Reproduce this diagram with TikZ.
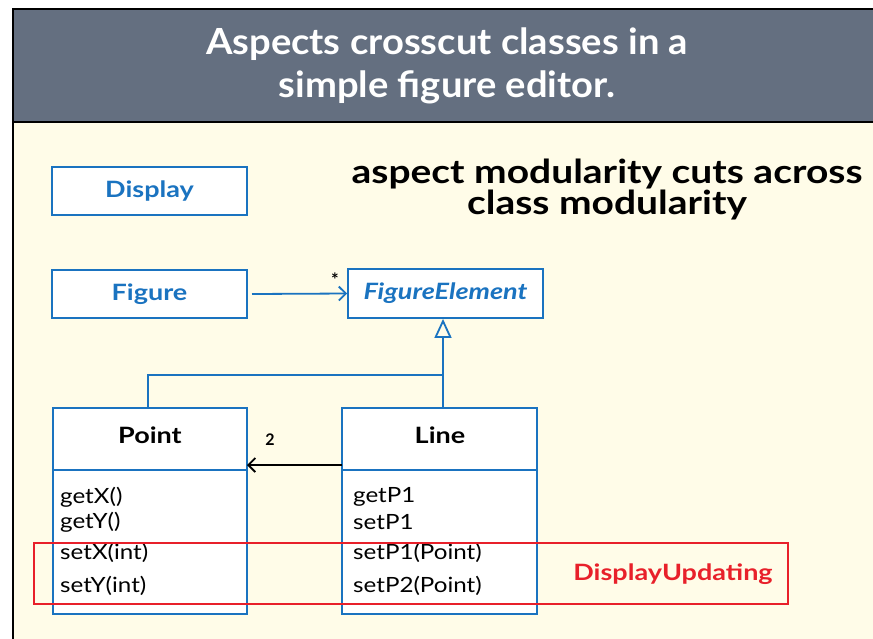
\documentclass[tikz,border=0pt]{standalone}
\usepackage{fontspec}
\setmainfont{Lato}
\newfontfamily\hdrfont[FakeStretch=1.06]{Lato}
\newfontfamily\subfont[FakeStretch=1.18]{Lato}
\newfontfamily\lblfont[FakeStretch=1.2]{Lato}
\newfontfamily\methfont[FakeStretch=1.15]{Lato}
\usetikzlibrary{arrows.meta}
\definecolor{hdr}{HTML}{646F80}
\definecolor{panel}{HTML}{FFFCE8}
\definecolor{umlblue}{HTML}{1A73C0}
\definecolor{aspred}{HTML}{E8202A}
\tikzset{
  cls/.style={draw=umlblue, line width=1.8pt, fill=white, inner sep=0pt},
  clsname/.style={font=\lblfont\fontsize{22.5}{26}\selectfont\bfseries, text=umlblue},
  blackname/.style={font=\lblfont\fontsize{22.5}{26}\selectfont\bfseries},
  meth/.style={font=\methfont\fontsize{21}{24}\selectfont, anchor=west, inner sep=0pt},
  conn/.style={draw=umlblue, line width=1.8pt},
}
\begin{document}
\begin{tikzpicture}[x=1pt,y=-1pt]
\useasboundingbox (0,0) rectangle (873,638);
\fill[white] (0,0) rectangle (873,638);
% panel and header
\fill[panel] (13,122) rectangle (880,650);
\fill[hdr] (13,9) rectangle (880,122);
\draw[black, line width=2pt] (13,122) -- (880,122);
\draw[black, line width=2.4pt] (13,650) -- (13,9) -- (880,9);
\node[text=white, font=\hdrfont\fontsize{36}{43}\selectfont\bfseries, align=center] (title) at (447,66) {Aspects crosscut classes in a\\simple figure editor.};
\node[font=\subfont\fontsize{33}{31}\selectfont\bfseries, align=center] (sub) at (607,189) {aspect modularity cuts across\\class modularity};
% simple class boxes
\node[cls, minimum width=195pt, minimum height=48pt] (display) at (149.5,191) {};
\node[clsname] at (display) {Display};
\node[cls, minimum width=195pt, minimum height=48pt] (figure) at (149.5,294) {};
\node[clsname] at (figure) {Figure};
\node[cls, minimum width=195pt, minimum height=49pt] (felem) at (445.5,293.5) {};
\node[clsname, font=\lblfont\fontsize{22.5}{26}\selectfont\bfseries\itshape] at (felem) {FigureElement};
% Point and Line
\node[cls, minimum width=194pt, minimum height=206pt] (point) at (150,511) {};
\draw[umlblue, line width=1.8pt] (53,470) -- (247,470);
\node[blackname] (pointname) at (150,435) {Point};
\node[cls, minimum width=195pt, minimum height=206pt] (line) at (439.5,511) {};
\draw[umlblue, line width=1.8pt] (342,470) -- (537,470);
\node[blackname] (linename) at (440,435) {Line};
\node[meth] (m1) at (60,497) {getX()};
\node[meth] (m2) at (60,522) {getY()};
\node[meth] (m3) at (60,553) {setX(int)};
\node[meth] (m4) at (60,586) {setY(int)};
\node[meth] (l1) at (353,497) {getP1};
\node[meth] (l2) at (353,522) {setP1};
\node[meth] (l3) at (353,553) {setP1(Point)};
\node[meth] (l4) at (353,586) {setP2(Point)};
% connectors
\coordinate (figstart) at (252,294);
\draw[conn, -{Straight Barb[length=7pt,width=14pt]}] (figstart) -- (felem.west);
\node[font=\fontsize{18}{18}\selectfont\bfseries] (star) at (335,280) {*};
\coordinate (junction) at (443,375);
\coordinate (pointtop) at (148,375);
\draw[conn] (point.north -| pointtop) -- (pointtop) -- (junction);
\draw[conn, -{Triangle[open, length=19pt, width=17pt]}] (line.north -| junction) -- (junction) -- (felem.south -| junction);
\coordinate (assocA) at (342,465);
\coordinate (assocB) at (247,465);
\draw[black, line width=1.8pt, -{Straight Barb[length=7pt,width=14pt]}] (assocA) -- (assocB);
\node[font=\fontsize{16}{16}\selectfont\bfseries] (two) at (270,440) {2};
% aspect
\node[draw=aspred, line width=1.8pt, minimum width=754pt, minimum height=61pt, inner sep=0pt] (aspect) at (411,573.5) {};
\node[font=\lblfont\fontsize{22.5}{26}\selectfont\bfseries, text=aspred] (aspname) at (673,574) {DisplayUpdating};
\end{tikzpicture}
\end{document}
